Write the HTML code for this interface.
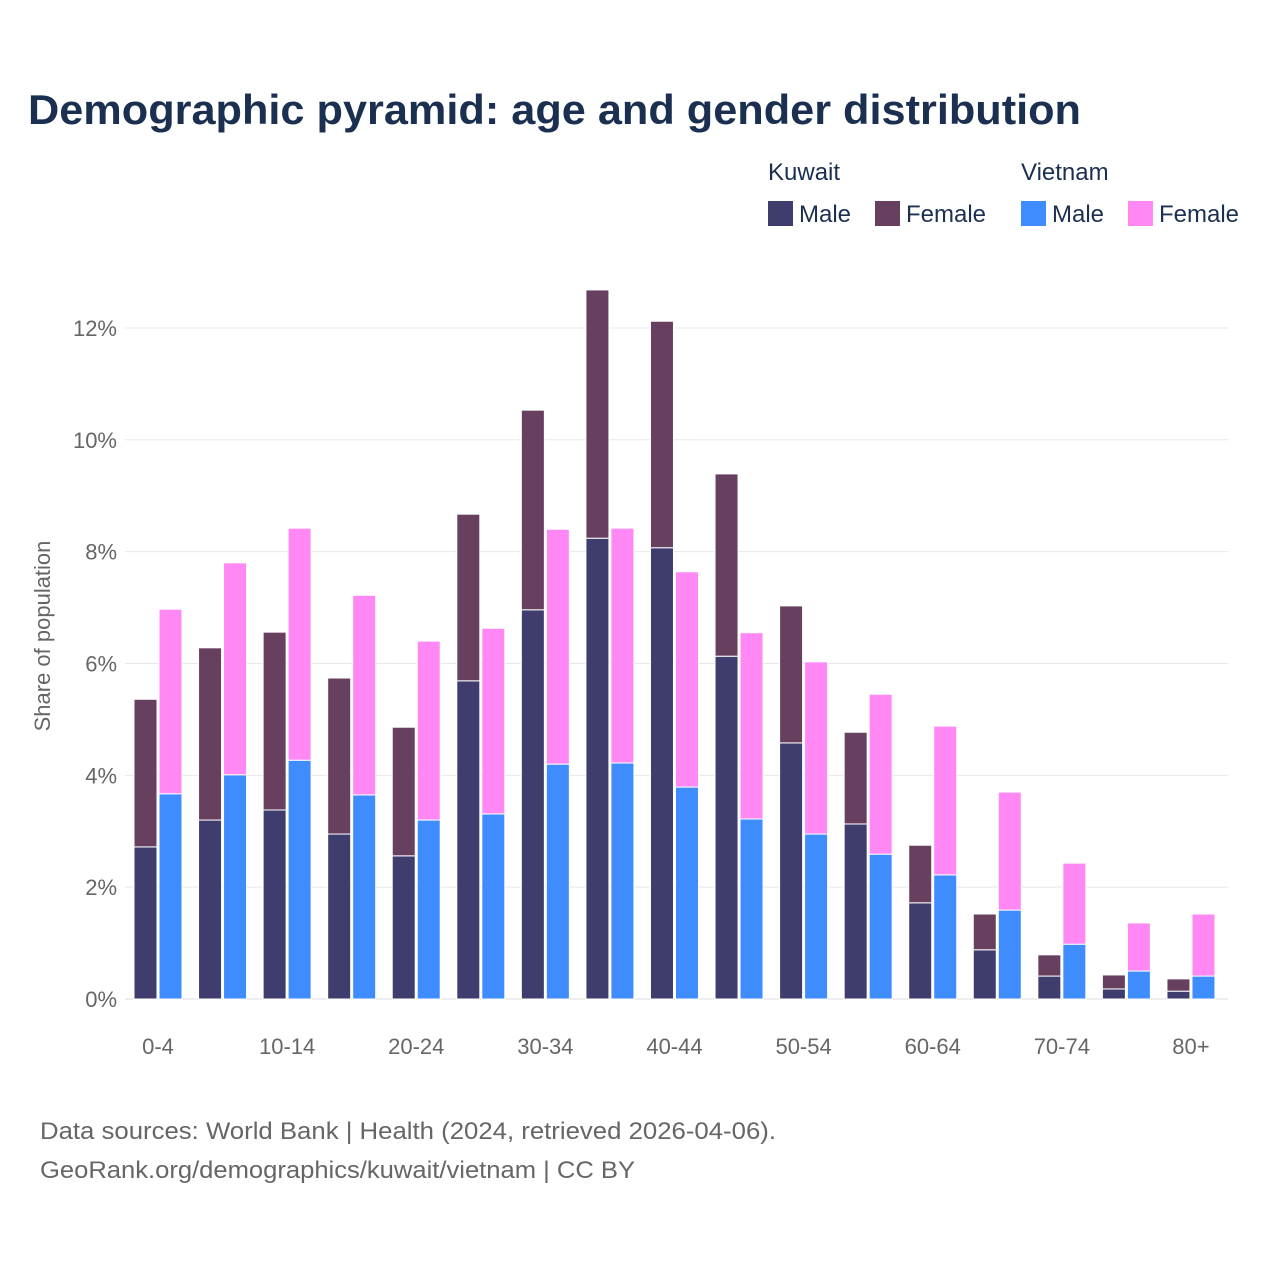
<!DOCTYPE html>
<html><head><meta charset="utf-8"><style>
body{margin:0;background:#fff;font-family:"Liberation Sans",sans-serif;}
svg text{font-family:"Liberation Sans",sans-serif;}
</style></head><body>
<svg id="chart" width="1280" height="1280" xmlns="http://www.w3.org/2000/svg">
<text x="28" y="124" font-size="42" font-weight="bold" fill="#1b3050" textLength="1053" lengthAdjust="spacingAndGlyphs">Demographic pyramid: age and gender distribution</text>
<g>
<text x="768" y="180" font-size="24" fill="#1b3050">Kuwait</text>
<text x="1021" y="180" font-size="24" fill="#1b3050">Vietnam</text>
<rect x="768" y="201" width="25" height="25" fill="#3f3d6e"/>
<text x="799" y="222" font-size="24" fill="#1b3050">Male</text>
<rect x="875" y="201" width="25" height="25" fill="#67405f"/>
<text x="906" y="222" font-size="24" fill="#1b3050">Female</text>
<rect x="1021" y="201" width="25" height="25" fill="#3f8cff"/>
<text x="1052" y="222" font-size="24" fill="#1b3050">Male</text>
<rect x="1128" y="201" width="25" height="25" fill="#ff88f5"/>
<text x="1159" y="222" font-size="24" fill="#1b3050">Female</text>
</g>
<g id="grid"></g>
<g id="bars"></g>
<g id="xlabels"></g>
<text transform="translate(50,636) rotate(-90)" text-anchor="middle" font-size="22" fill="#666">Share of population</text>
<text x="40" y="1139" font-size="24" fill="#666" textLength="736" lengthAdjust="spacingAndGlyphs">Data sources: World Bank | Health (2024, retrieved 2026-04-06).</text>
<text x="40" y="1178" font-size="24" fill="#666" textLength="595" lengthAdjust="spacingAndGlyphs">GeoRank.org/demographics/kuwait/vietnam | CC BY</text>
</svg>
<script>
const categories=["0-4","5-9","10-14","15-19","20-24","25-29","30-34","35-39","40-44","45-49","50-54","55-59","60-64","65-69","70-74","75-79","80+"];
const kuwaitMale=[2.72,3.20,3.38,2.95,2.56,5.69,6.96,8.24,8.07,6.13,4.58,3.13,1.72,0.88,0.41,0.18,0.14];
const kuwaitTotal=[5.36,6.28,6.56,5.74,4.86,8.67,10.53,12.68,12.12,9.39,7.03,4.77,2.75,1.52,0.79,0.43,0.36];
const vietnamMale=[3.67,4.01,4.27,3.65,3.20,3.31,4.20,4.22,3.79,3.22,2.95,2.59,2.22,1.59,0.98,0.50,0.41];
const vietnamTotal=[6.97,7.80,8.42,7.22,6.40,6.63,8.40,8.42,7.64,6.55,6.03,5.45,4.88,3.70,2.43,1.36,1.52];
const yTicks=[0,2,4,6,8,10,12];
const NS="http://www.w3.org/2000/svg";
const y=v=>999-v*55.92;
const xc=i=>158+i*64.56;
function mk(tag,attrs,parent){const e=document.createElementNS(NS,tag);for(const k in attrs)e.setAttribute(k,attrs[k]);document.getElementById(parent).appendChild(e);return e;}
yTicks.forEach(t=>{
 const l=mk('line',{x1:125,x2:1228,y1:y(t),y2:y(t),stroke:t===0?'#ddd':'#e8e8e8','stroke-width':1},'grid');
 
 
 const tx=mk('text',{x:117,y:y(t)+8,'text-anchor':'end','font-size':22,fill:'#666'},'grid');
 tx.textContent=t+'%';
 
 
});
function bar(x,v0,v1,fill,name){
 const r=mk('rect',{x:x,y:y(v1),width:23,height:y(v0)-y(v1),fill:fill,stroke:'#fff','stroke-width':1},'bars');
 
 
}
categories.forEach((c,i)=>{
 const kx=xc(i)-24, vx=xc(i)+1;
 bar(kx,0,kuwaitMale[i],'#3f3d6e','bar-kuwait-male');
 bar(kx,kuwaitMale[i],kuwaitTotal[i],'#67405f','bar-kuwait-female');
 bar(vx,0,vietnamMale[i],'#3f8cff','bar-vietnam-male');
 bar(vx,vietnamMale[i],vietnamTotal[i],'#ff88f5','bar-vietnam-female');
 if(i%2===0){
  const t=mk('text',{x:xc(i),y:1054,'text-anchor':'middle','font-size':22,fill:'#666'},'xlabels');
  t.textContent=c;
  
  
 }
});
</script>
</body></html>
